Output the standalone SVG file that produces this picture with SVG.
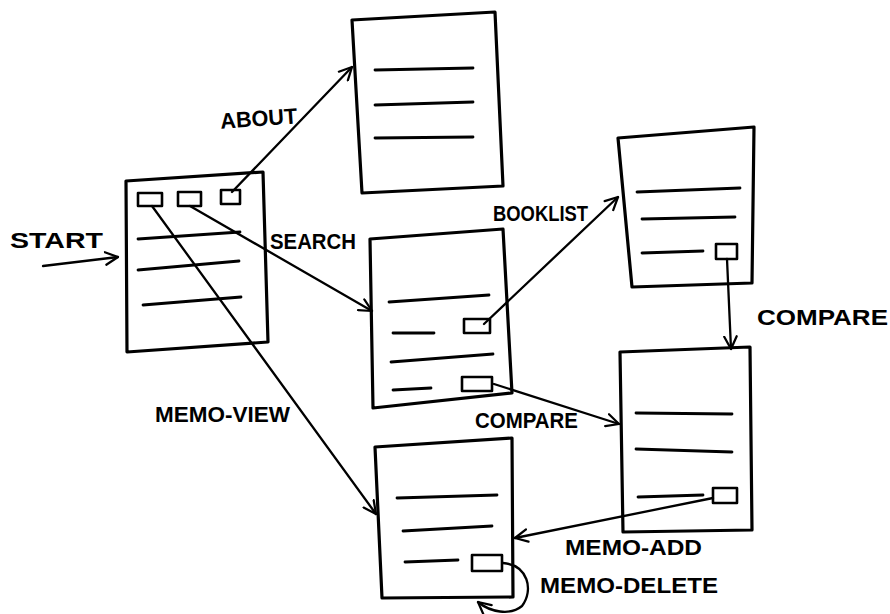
<svg xmlns="http://www.w3.org/2000/svg" width="890" height="614" viewBox="0 0 890 614">
<style>
.page{fill:#fff;stroke:#000;stroke-width:3.2;stroke-linejoin:round}
.ln{stroke:#000;stroke-width:2.8;stroke-linecap:round;fill:none}
.btn{fill:#fff;stroke:#000;stroke-width:2.6;stroke-linejoin:round}
.edge{stroke:#000;stroke-width:2.3;fill:none;stroke-linecap:round}
.lbl{font-family:"Liberation Sans",Arial,sans-serif;font-size:22px;font-weight:bold;fill:#000}
</style>
<defs>
<marker id="arr" viewBox="0 0 12 12" refX="11" refY="6" markerWidth="15" markerHeight="15" markerUnits="userSpaceOnUse" orient="auto">
<path d="M1,1 L11,6 L1,11" fill="none" stroke="#000" stroke-width="1.8" stroke-linecap="round" stroke-linejoin="round"/>
</marker>
</defs>
<rect width="890" height="614" fill="#fff"/>
<g id="start-page">
<polygon class="page" points="126,181 263,172 268,342 127,352"/>
<rect class="btn" x="138" y="193" width="24" height="13"/>
<rect class="btn" x="178" y="192" width="23" height="14"/>
<rect class="btn" x="221" y="190" width="19" height="14"/>
<path class="ln" d="M138,239 L240,232 M138,270 L239,261 M143,305 L241,297"/>
</g>
<g id="about-page">
<polygon class="page" points="352,20 495,12 503,186 362,193"/>
<path class="ln" d="M375,70 L473,68 M375,105 L473,102 M375,138 L473,137"/>
</g>
<g id="search-page">
<polygon class="page" points="370,239 503,229 512,393 373,408"/>
<path class="ln" d="M389,302 L489,295 M393,333 L434,333 M391,362 L493,354 M393,390 L431,388"/>
<rect class="btn" x="464" y="319" width="26" height="14"/>
<rect class="btn" x="462" y="377" width="30" height="14"/>
</g>
<g id="booklist-page">
<polygon class="page" points="618,138 754,127 752,283 632,287"/>
<path class="ln" d="M637,192 L740,188 M642,219 L735,217 M642,253 L703,251"/>
<rect class="btn" x="716" y="244" width="21" height="15"/>
</g>
<g id="compare-page">
<polygon class="page" points="620,352 750,347 752,530 623,532"/>
<path class="ln" d="M636,413 L732,414 M636,449 L732,452 M638,497 L703,495"/>
<rect class="btn" x="713" y="488" width="24" height="15"/>
</g>
<g id="memo-page">
<polygon class="page" points="375,447 512,438 513,597 382,598"/>
<path class="ln" d="M397,498 L497,495 M403,531 L492,526 M405,562 L458,560"/>
<rect class="btn" x="472" y="555" width="30" height="16"/>
</g>
<g id="connectors">
<path class="edge" d="M43,266 L118,257" marker-end="url(#arr)"/>
<path class="edge" d="M232,192 L352,67" marker-end="url(#arr)"/>
<path class="edge" d="M190,206 L372,311" marker-end="url(#arr)"/>
<path class="edge" d="M152,206 L376,514" marker-end="url(#arr)"/>
<path class="edge" d="M484,324 L618,197" marker-end="url(#arr)"/>
<path class="edge" d="M494,384 L619,424" marker-end="url(#arr)"/>
<path class="edge" d="M727,259 L731,349" marker-end="url(#arr)"/>
<path class="edge" d="M713,498 L515,538" marker-end="url(#arr)"/>
<path class="edge" d="M503,563 C528,565 534,590 522,606 C510,616 490,612 478,602" marker-end="url(#arr)" stroke-width="2.8"/>
</g>
<g id="labels">
<text class="lbl" x="10" y="248" textLength="93" lengthAdjust="spacingAndGlyphs">START</text>
<text class="lbl" x="220" y="126" textLength="77" lengthAdjust="spacingAndGlyphs" transform="rotate(-4 258 116)">ABOUT</text>
<text class="lbl" x="270" y="249" textLength="86" lengthAdjust="spacingAndGlyphs">SEARCH</text>
<text class="lbl" x="493" y="221" textLength="95" lengthAdjust="spacingAndGlyphs">BOOKLIST</text>
<text class="lbl" x="757" y="325" textLength="131" lengthAdjust="spacingAndGlyphs">COMPARE</text>
<text class="lbl" x="475" y="428" textLength="103" lengthAdjust="spacingAndGlyphs">COMPARE</text>
<text class="lbl" x="155" y="422" textLength="135" lengthAdjust="spacingAndGlyphs">MEMO-VIEW</text>
<text class="lbl" x="565" y="555" textLength="137" lengthAdjust="spacingAndGlyphs">MEMO-ADD</text>
<text class="lbl" x="540" y="593" textLength="178" lengthAdjust="spacingAndGlyphs">MEMO-DELETE</text>
</g>
</svg>
